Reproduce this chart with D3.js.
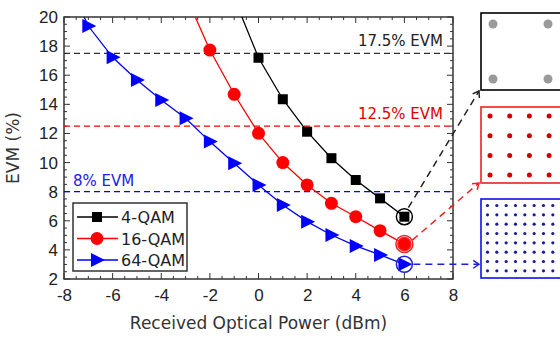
<!DOCTYPE html>
<html>
<head>
<meta charset="utf-8">
<title>EVM vs received optical power</title>
<script src="https://cdnjs.cloudflare.com/ajax/libs/d3/7.8.5/d3.min.js"></script>
<style>
  body { margin: 0; background: #fff; }
  svg { display: block; font-family: "DejaVu Sans", Verdana, sans-serif; }
  .tick text { font-size: 17px; fill: #222; }
</style>
</head>
<body>
<script>
// data
var qam4x = [-1, 0, 1, 2, 3, 4, 5, 6];
var qam4y = [21.3, 17.2, 14.35, 12.12, 10.3, 8.8, 7.54, 6.28];
var qam16x = [-3, -2, -1, 0, 1, 2, 3, 4, 5, 6];
var qam16y = [21.5, 17.73, 14.69, 12.01, 10.0, 8.46, 7.2, 6.28, 5.32, 4.4];
var qam64x = [-8, -7, -6, -5, -4, -3, -2, -1, 0, 1, 2, 3, 4, 5, 6];
var qam64y = [23, 19.38, 17.23, 15.67, 14.3, 13.04, 11.44, 9.95, 8.46, 7.08, 5.94, 5.02, 4.27, 3.65, 3.01];
var xTicks = [-8, -6, -4, -2, 0, 2, 4, 6, 8];
var yTicks = [2, 4, 6, 8, 10, 12, 14, 16, 18, 20];
var limits = [17.5, 12.5, 8];
var limitLabels = ["17.5% EVM", "12.5% EVM", "8% EVM"];
var seriesNames = ["4-QAM", "16-QAM", "64-QAM"];
var seriesColors = ["#000000", "#ff0000", "#0000ff"];

var width = 560, height = 338;
var pLeft = 64, pRight = 453, pTop = 17, pBottom = 279;

var x = d3.scaleLinear().domain([-8, 8]).range([pLeft, pRight]);
var y = d3.scaleLinear().domain([2, 20]).range([pBottom, pTop]);

var svg = d3.select("body").append("svg")
    .attr("width", width)
    .attr("height", height);

svg.append("clipPath").attr("id", "plot")
    .append("rect")
    .attr("x", pLeft).attr("y", pTop)
    .attr("width", pRight - pLeft).attr("height", pBottom - pTop);

// minor ticks (inward, all sides)
var xMinor = d3.range(-8, 8.01, 0.5);
var yMinor = d3.range(2, 20.01, 0.5);
var tg = svg.append("g").attr("stroke", "#333").attr("stroke-width", 1);
xMinor.forEach(function (v) {
    var len = (v % 2 === 0) ? 6 : 3;
    tg.append("line").attr("x1", x(v)).attr("x2", x(v)).attr("y1", pBottom).attr("y2", pBottom - len);
    tg.append("line").attr("x1", x(v)).attr("x2", x(v)).attr("y1", pTop).attr("y2", pTop + len);
});
yMinor.forEach(function (v) {
    var len = (v % 2 === 0) ? 6 : 3;
    tg.append("line").attr("y1", y(v)).attr("y2", y(v)).attr("x1", pLeft).attr("x2", pLeft + len);
    tg.append("line").attr("y1", y(v)).attr("y2", y(v)).attr("x1", pRight).attr("x2", pRight - len);
});

// axes labels only
var fmt = function (d) { return String(d); };
svg.append("g")
    .attr("transform", "translate(0," + pBottom + ")")
    .call(d3.axisBottom(x).tickValues(xTicks).tickFormat(fmt).tickSize(0).tickPadding(10));
svg.append("g")
    .attr("transform", "translate(" + pLeft + ",0)")
    .call(d3.axisLeft(y).tickValues(yTicks).tickFormat(fmt).tickSize(0).tickPadding(6));
svg.selectAll(".domain").remove();

svg.append("rect")
    .attr("x", pLeft).attr("y", pTop)
    .attr("width", pRight - pLeft).attr("height", pBottom - pTop)
    .attr("fill", "none").attr("stroke", "#333").attr("stroke-width", 1.5);

// EVM limit lines
var limitG = svg.append("g");
limits.forEach(function (v, i) {
    limitG.append("line")
        .attr("x1", pLeft).attr("x2", pRight)
        .attr("y1", y(v)).attr("y2", y(v))
        .attr("stroke", i === 0 ? "#333" : seriesColors[i])
        .attr("stroke-width", 1.3)
        .attr("stroke-dasharray", "6,4");
});
svg.append("text").attr("x", 443).attr("y", y(17.5) - 7)
    .attr("text-anchor", "end").attr("font-size", 15).attr("fill", "#222").text(limitLabels[0]);
svg.append("text").attr("x", 443).attr("y", y(12.5) - 7)
    .attr("text-anchor", "end").attr("font-size", 15).attr("fill", "#e00000").text(limitLabels[1]);
svg.append("text").attr("x", 73).attr("y", y(8) - 6)
    .attr("text-anchor", "start").attr("font-size", 15).attr("fill", "#2020ee").text(limitLabels[2]);

// series
var series = [
    {xs: qam4x, ys: qam4y},
    {xs: qam16x, ys: qam16y},
    {xs: qam64x, ys: qam64y}
];
var line = d3.line().x(function (d) { return x(d[0]); }).y(function (d) { return y(d[1]); });

function marker(g, i, cx, cy) {
    if (i === 0) {
        g.append("rect").attr("x", cx - 5).attr("y", cy - 5).attr("width", 10).attr("height", 10)
            .attr("fill", "#000");
    } else if (i === 1) {
        g.append("circle").attr("cx", cx).attr("cy", cy).attr("r", 6.5).attr("fill", "#ff0000");
    } else {
        g.append("path").attr("d", "M" + (cx - 6) + "," + (cy - 7) + "L" + (cx + 8) + "," + cy + "L" + (cx - 6) + "," + (cy + 7) + "Z")
            .attr("fill", "#0000ff");
    }
}

var plotG = svg.append("g").attr("clip-path", "url(#plot)");
series.forEach(function (s, i) {
    var pts = s.xs.map(function (v, j) { return [v, s.ys[j]]; });
    plotG.append("path").datum(pts)
        .attr("d", line)
        .attr("fill", "none")
        .attr("stroke", seriesColors[i])
        .attr("stroke-width", 1.3);
    pts.forEach(function (p) {
        if (p[1] <= 20) marker(plotG, i, x(p[0]), y(p[1]));
    });
});

// highlight circles at 6 dBm
var hl = svg.append("g").attr("fill", "none").attr("stroke-width", 1.5);
hl.append("circle").attr("cx", x(6)).attr("cy", y(qam4y[qam4y.length - 1])).attr("r", 8).attr("stroke", "#000");
hl.append("circle").attr("cx", x(6)).attr("cy", y(qam16y[qam16y.length - 1])).attr("r", 8.5).attr("stroke", "#ff2020");
hl.append("circle").attr("cx", x(6)).attr("cy", y(qam16y[qam16y.length - 1])).attr("r", 6.5).attr("stroke", "#ff2020");
hl.append("circle").attr("cx", x(6)).attr("cy", y(qam64y[qam64y.length - 1])).attr("r", 8).attr("stroke", "#2020dd");

// constellation boxes
var boxX = 481, boxW = 80;
var boxes = [
    {y0: 13, h: 77, color: "#000", n: 2, dot: "#888", r: 4.5, first: 493, step: 55},
    {y0: 107, h: 76, color: "#ee2020", n: 4, dot: "#cc0000", r: 2.5, first: 490, step: 19.7},
    {y0: 199, h: 79, color: "#1010ee", n: 8, dot: "#1a1aa0", r: 1.6, first: 487.5, step: 9.33}
];
boxes.forEach(function (b) {
    svg.append("rect").attr("x", boxX).attr("y", b.y0).attr("width", boxW).attr("height", b.h)
        .attr("fill", "#fff").attr("stroke", b.color).attr("stroke-width", 1.6);
    var firstY = b.y0 + (b.first - boxX) + (b.n === 2 ? -1 : 0);
    for (var r = 0; r < b.n; r++) {
        for (var c = 0; c < b.n; c++) {
            svg.append("circle")
                .attr("cx", b.first + c * b.step)
                .attr("cy", firstY + r * b.step)
                .attr("r", b.r)
                .attr("fill", b.dot)
                .attr("opacity", b.n === 2 ? 0.85 : 1);
        }
    }
});

// dashed arrows from circles to boxes
var arrows = [
    {x1: x(6) + 4, y1: y(6.28) - 9, x2: 479, y2: 91, color: "#222"},
    {x1: x(6) + 8, y1: y(4.4) - 4, x2: 479, y2: 183, color: "#ee2020"},
    {x1: x(6) + 9, y1: y(3.01), x2: 479, y2: y(3.01), color: "#2020dd"}
];
arrows.forEach(function (a) {
    svg.append("line").attr("x1", a.x1).attr("y1", a.y1).attr("x2", a.x2).attr("y2", a.y2)
        .attr("stroke", a.color).attr("stroke-width", 1.5).attr("stroke-dasharray", "7,5");
    var ang = Math.atan2(a.y2 - a.y1, a.x2 - a.x1);
    var L = 7, sp = 0.6;
    svg.append("path")
        .attr("d", "M" + (a.x2 - L * Math.cos(ang - sp)) + "," + (a.y2 - L * Math.sin(ang - sp)) +
            "L" + a.x2 + "," + a.y2 +
            "L" + (a.x2 - L * Math.cos(ang + sp)) + "," + (a.y2 - L * Math.sin(ang + sp)))
        .attr("fill", "none").attr("stroke", a.color).attr("stroke-width", 1.5);
});

// legend
var lg = svg.append("g");
lg.append("rect").attr("x", 73).attr("y", 203).attr("width", 114).attr("height", 68)
    .attr("fill", "#fff").attr("stroke", "#333").attr("stroke-width", 1.5);
seriesNames.forEach(function (name, i) {
    var ly = 217 + i * 21.5;
    lg.append("line").attr("x1", 77).attr("x2", 118).attr("y1", ly).attr("y2", ly)
        .attr("stroke", seriesColors[i]).attr("stroke-width", 1.3);
    marker(lg, i, 97, ly);
    lg.append("text").attr("x", 121).attr("y", ly + 6).attr("font-size", 16).attr("fill", "#222").text(name);
});

// axis titles
svg.append("text").attr("x", (pLeft + pRight) / 2).attr("y", 329)
    .attr("text-anchor", "middle").attr("font-size", 17).attr("fill", "#333")
    .text("Received Optical Power (dBm)");
svg.append("text")
    .attr("transform", "translate(19," + ((pTop + pBottom) / 2) + ") rotate(-90)")
    .attr("text-anchor", "middle").attr("font-size", 17).attr("fill", "#333")
    .text("EVM (%)");
</script>
</body>
</html>
